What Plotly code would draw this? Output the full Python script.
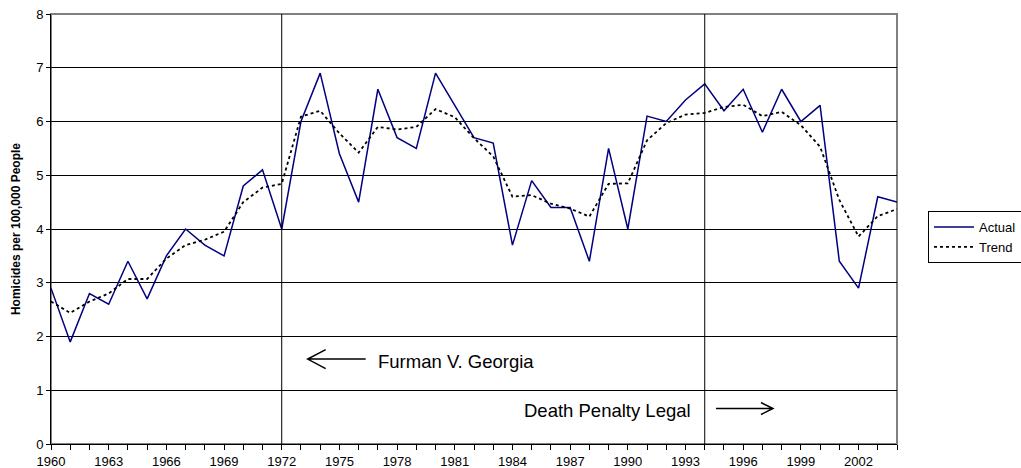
import plotly.graph_objects as go

years = list(range(1960, 2005))
actual = [2.9, 1.9, 2.8, 2.6, 3.4, 2.7, 3.5, 4.0, 3.7, 3.5,
          4.8, 5.1, 4.0, 6.0, 6.9, 5.4, 4.5, 6.6, 5.7, 5.5,
          6.9, 6.3, 5.7, 5.6, 3.7, 4.9, 4.4, 4.4, 3.4, 5.5,
          4.0, 6.1, 6.0, 6.4, 6.7, 6.2, 6.6, 5.8, 6.6, 6.0,
          6.3, 3.4, 2.9, 4.6, 4.5]
trend = [2.65, 2.44, 2.65, 2.8, 3.07, 3.07, 3.45, 3.7, 3.8, 3.95,
         4.5, 4.77, 4.84, 6.09, 6.2, 5.78, 5.42, 5.9, 5.85, 5.9,
         6.23, 6.08, 5.69, 5.35, 4.6, 4.63, 4.47, 4.38, 4.23, 4.84,
         4.85, 5.65, 5.97, 6.13, 6.16, 6.27, 6.31, 6.1, 6.18, 5.93,
         5.53, 4.54, 3.86, 4.24, 4.37]
tick_years = list(range(1960, 2004, 3))
event_years = [1972, 1994]
event_labels = ["Furman V. Georgia", "Death Penalty Legal"]

FONT = "Liberation Sans, Arial, sans-serif"

fig = go.Figure()
fig.add_trace(go.Scatter(x=years, y=actual, mode="lines", name="Actual",
                         line=dict(color="#000080", width=1.5)))
fig.add_trace(go.Scatter(x=years, y=trend, mode="lines", name="Trend",
                         line=dict(color="black", width=1.8, dash="dot")))

for ey in event_years:
    fig.add_shape(type="line", x0=ey, x1=ey, y0=0, y1=8, xref="x", yref="y",
                  line=dict(color="black", width=1), layer="above")

# plot-area border (gray top/right)
fig.add_shape(type="rect", xref="paper", yref="paper", x0=0, x1=1, y0=0, y1=1,
              line=dict(color="#808080", width=2), layer="between")

# arrows drawn as pixel-sized paths anchored at their tips
fig.add_shape(type="path", xref="x", yref="y", xsizemode="pixel", ysizemode="pixel",
              xanchor=1973.35, yanchor=1.58,
              path="M 58,0 L 0,0 M 18,9.5 L 0,0 L 18,-9.5",
              line=dict(color="black", width=1.5), layer="above")
fig.add_shape(type="path", xref="x", yref="y", xsizemode="pixel", ysizemode="pixel",
              xanchor=1997.55, yanchor=0.66,
              path="M -57,0 L 0,0 M -12,6 L 0,0 L -12,-6",
              line=dict(color="black", width=1.5), layer="above")

fig.add_annotation(x=1976.9, y=1.54, xref="x", yref="y", text=event_labels[0],
                   showarrow=False, xanchor="left", yanchor="middle",
                   font=dict(family=FONT, size=18.5, color="black"))
fig.add_annotation(x=1984.5, y=0.62, xref="x", yref="y", text=event_labels[1],
                   showarrow=False, xanchor="left", yanchor="middle",
                   font=dict(family=FONT, size=18.5, color="black"))

fig.update_layout(
    width=1021, height=468,
    margin=dict(l=51, r=124, t=14, b=24),
    paper_bgcolor="white", plot_bgcolor="white",
    font=dict(family=FONT, size=12, color="black"),
    showlegend=True,
    legend=dict(xref="container", yref="container", x=928 / 1021, y=1 - 211 / 468,
                xanchor="left", yanchor="top",
                bordercolor="black", borderwidth=1, bgcolor="white",
                font=dict(family=FONT, size=13), itemwidth=40,
                tracegroupgap=0),
    xaxis=dict(range=[1960, 2004], tickmode="array", tickvals=tick_years,
               ticktext=[str(t) for t in tick_years], automargin=False,
               showgrid=False, zeroline=False, showline=True, linecolor="black",
               linewidth=1, ticks="outside", ticklen=5, tickcolor="black",
               tickfont=dict(family=FONT, size=13),
               minor=dict(dtick=1, tick0=1960, ticks="outside", ticklen=5,
                          tickcolor="black", showgrid=False)),
    yaxis=dict(range=[0, 8], dtick=1, showgrid=True, gridcolor="black", gridwidth=1,
               zeroline=False, showline=True, linecolor="black", linewidth=1,
               automargin=False,
               ticks="outside", ticklen=4, tickcolor="black",
               tickfont=dict(family=FONT, size=13),
               title=dict(text="<b>Homicides per 100,000 People</b>",
                          font=dict(family=FONT, size=12), standoff=12)),
)

fig.write_html("out.html", config={"displayModeBar": False},
               post_script="document.body.style.margin='0';")
